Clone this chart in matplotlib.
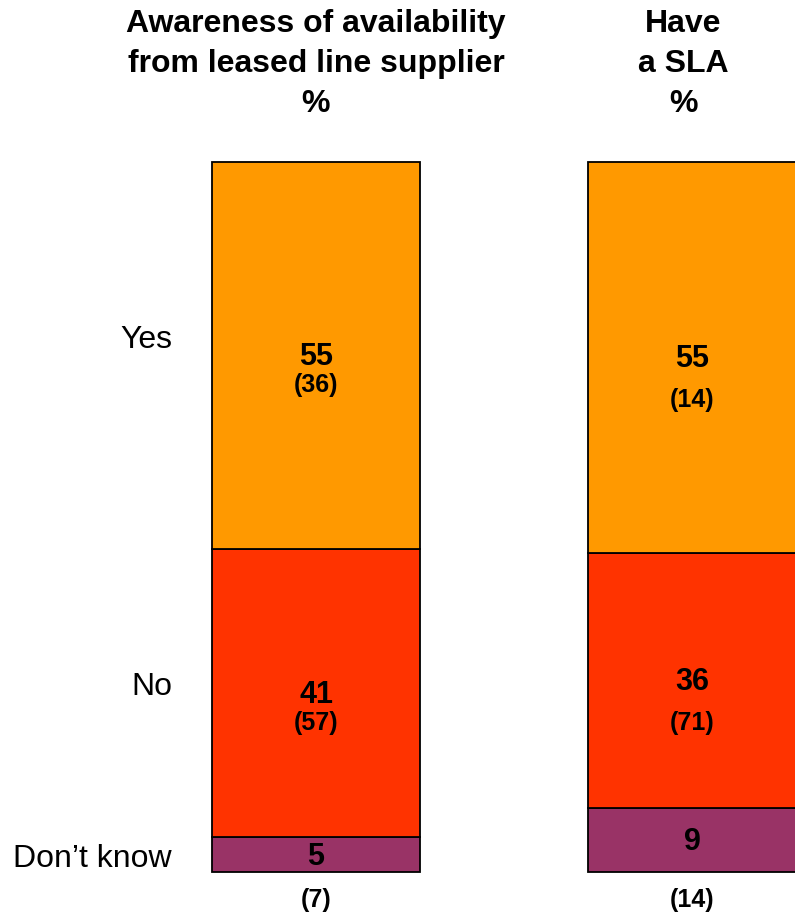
import numpy as np
import matplotlib.pyplot as plt

plt.rcParams['font.family'] = ['Liberation Sans', 'DejaVu Sans']

categories = ["Don\u2019t know", "No", "Yes"]
titles = ["Awareness of availability\nfrom leased line supplier\n%", "Have\na SLA\n%"]
values = {
    "awareness": [5, 41, 55],
    "sla": [9, 36, 55],
}
sub_counts = {
    "awareness": [None, "(57)", "(36)"],
    "sla": [None, "(71)", "(14)"],
}
base_counts = ["(7)", "(14)"]
colors = ["#993366", "#FF3300", "#FF9900"]

fig = plt.figure(figsize=(7.95, 9.14), dpi=100)
# axes placed so bars land where they sit in the original slide
ax = fig.add_axes([0, 42 / 914, 1, 710 / 914])
ax.set_xlim(-316 / 376, (795 - 316) / 376)
ax.set_ylim(0, 100)
ax.axis("off")

width = 208 / 376
paren_offset = [-21.5, -31]  # points below the main number

for i, key in enumerate(values):
    vals = np.array(values[key], dtype=float)
    heights = vals / vals.sum() * 100
    bottom = 0
    for j, h in enumerate(heights):
        ax.bar(i, h, width=width, bottom=bottom, color=colors[j],
               edgecolor="black", linewidth=1.3, clip_on=False)
        mid = bottom + h / 2
        ax.text(i, mid - 0.3, str(values[key][j]), ha="center", va="center",
                fontsize=22, fontweight="bold")
        if sub_counts[key][j]:
            ax.annotate(sub_counts[key][j], (i, mid), xytext=(0, paren_offset[i]),
                        textcoords="offset points", ha="center", va="center",
                        fontsize=18, fontweight="bold")
        bottom += h
    ax.annotate(base_counts[i], (i, 0), xytext=(0, -20), textcoords="offset points",
                ha="center", va="center", fontsize=18, fontweight="bold")

title_x = [316 / 795, 683 / 795]
for i, t in enumerate(titles):
    fig.text(title_x[i], 1 - 64 / 914, t, ha="center", va="center",
             fontsize=23, fontweight="bold", linespacing=1.42)

label_y = [859, 687, 340]
for lab, y in zip(categories, label_y):
    fig.text(172 / 795, 1 - y / 914, lab, ha="right", va="center", fontsize=23)

fig.savefig("out.png", dpi=100)
